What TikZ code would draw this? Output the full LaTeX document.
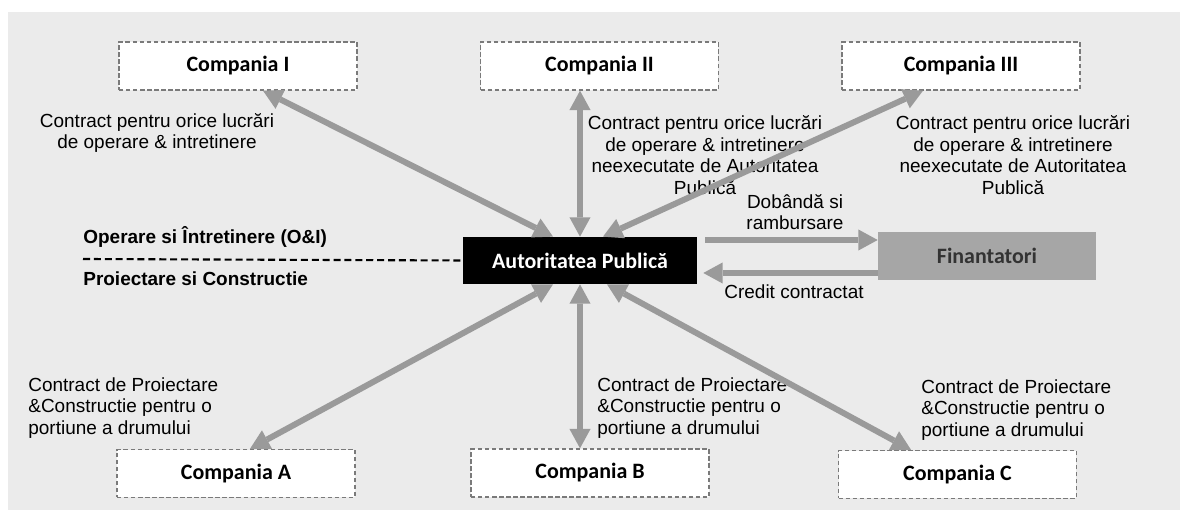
\documentclass[tikz,border=0pt]{standalone}
\usepackage{fontspec}
\setmainfont{Liberation Sans}
\newfontfamily\boxfont{Carlito}
\usetikzlibrary{arrows.meta}
\definecolor{bggray}{HTML}{EBEBEB}
\definecolor{arrowgray}{HTML}{9A9A9A}
\definecolor{fingray}{HTML}{A6A6A6}
\definecolor{dashgray}{HTML}{7A7A7A}
\tikzset{bigtip/.tip={Triangle[width=12pt, length=11pt, line width=0pt]}}

\begin{document}
\begin{tikzpicture}[x=0.02cm, y=-0.02cm,
        company/.style={draw=dashgray, fill=white, dash pattern=on 2.5pt off 1.5pt, line width=0.8pt,
            minimum width=4.76cm, minimum height=0.96cm, inner sep=0pt,
            font=\boxfont\bfseries\fontsize{12.5}{14}\selectfont},
        lbl/.style={inner sep=0pt, font=\fontsize{10.8}{12.3}\selectfont},
        flow/.style={color=arrowgray, line width=3.4pt, bigtip-bigtip},
        oneway/.style={color=arrowgray, line width=3.4pt, -bigtip}]
        \useasboundingbox (0,0) rectangle (1184,516);
        \fill[bggray] (8,12) rectangle (1180,510);
        \begin{scope}[every node/.style={company}]
            \node (ci) at (238, 66) {Compania I};
            \node (cii) at (599.5, 66) {Compania II};
            \node (ciii) at (961, 66) {Compania III};
            \node (ca) at (236, 473.5) {Compania A};
            \node (cb) at (590, 473) {Compania B};
            \node (cc) at (957.5, 474.5) {Compania C};
        \end{scope}
        \node[fill=black, text=white, minimum width=4.68cm, minimum height=0.94cm, inner sep=0pt,
            font=\boxfont\bfseries\fontsize{12.5}{14}\selectfont] (auth) at (580, 260.5) {Autoritatea Publică};
        \node[fill=fingray, text=black!80, minimum width=4.36cm, minimum height=0.96cm, inner sep=0pt,
            font=\boxfont\bfseries\fontsize{12.5}{14}\selectfont] (fin) at (987, 256) {Finantatori};
        \begin{scope}[every node/.style={lbl}]
            \node[align=center] (lci) at (157, 133) {Contract pentru orice lucrări\\de operare \& intretinere};
            \node[align=center] (lcii) at (705, 155) {Contract pentru orice lucrări\\de operare \& intretinere\\neexecutate de Autoritatea\\Publică};
            \node[align=center] (lciii) at (1013, 155) {Contract pentru orice lucrări\\de operare \& intretinere\\neexecutate de Autoritatea\\Publică};
            \node[align=left, anchor=west] (lca) at (28, 408) {Contract de Proiectare\\\&Constructie pentru o\\portiune a drumului};
            \node[align=left, anchor=west] (lcb) at (597, 408) {Contract de Proiectare\\\&Constructie pentru o\\portiune a drumului};
            \node[align=left, anchor=west] (lcc) at (921, 410) {Contract de Proiectare\\\&Constructie pentru o\\portiune a drumului};
            \node[align=center] (ldob) at (795, 212) {Dobândă si\\rambursare};
            \node (lcred) at (794, 292) {Credit contractat};
            \node[anchor=west, font=\bfseries\fontsize{10.8}{12.3}\selectfont] (lom) at (83, 237) {Operare si Întretinere (O\&I)};
            \node[anchor=west, font=\bfseries\fontsize{10.8}{12.3}\selectfont] (lpc) at (83, 279) {Proiectare si Constructie};
        \end{scope}
        % separator O&I / proiectare
        \coordinate (sep) at (83, 259);
        \draw[dash pattern=on 4pt off 2.2pt, line width=1.2pt] (sep) -- (auth.west);
        % contracte
        \draw [flow] ([xshift=0.5cm]ci.south) -- ([xshift=-0.54cm]auth.north);
        \draw [flow] ([xshift=-0.39cm]cii.south) -- (auth.north);
        \draw [flow] ([xshift=-0.76cm]ciii.south) -- ([xshift=0.46cm]auth.north);
        \draw [flow] ([xshift=0.28cm]ca.north) -- ([xshift=-0.54cm]auth.south);
        \draw [flow] ([xshift=-0.2cm]cb.north) -- (auth.south);
        \draw [flow] ([xshift=-0.93cm]cc.north) -- ([xshift=0.54cm]auth.south);
        % finantare
        \draw [oneway] ([xshift=0.16cm, yshift=0.41cm]auth.east) -- ([yshift=0.41cm]auth.east -| fin.west);
        \draw [oneway] ([yshift=-0.25cm]auth.east -| fin.west) -- ([xshift=0.12cm, yshift=-0.25cm]auth.east);
\end{tikzpicture}
\end{document}
